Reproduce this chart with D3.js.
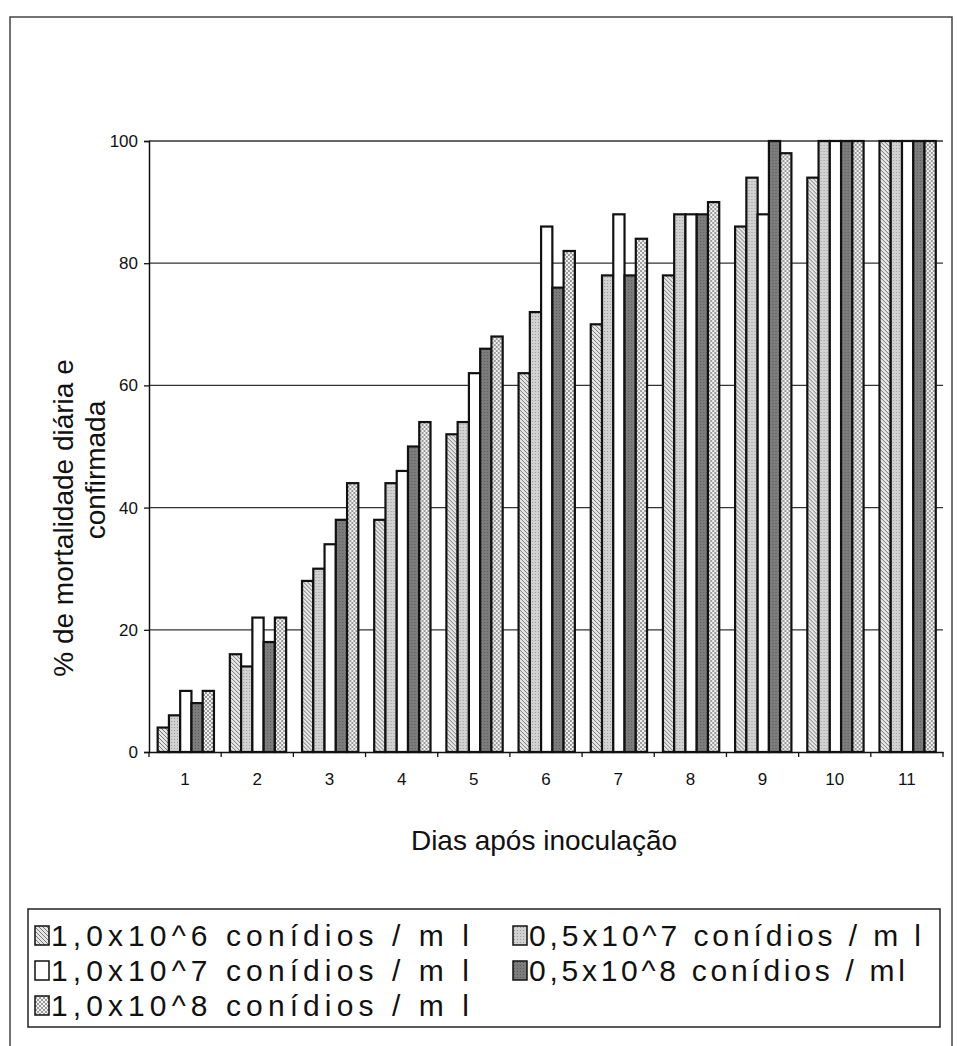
<!DOCTYPE html>
<html>
<head>
<meta charset="utf-8">
<script src="https://cdn.jsdelivr.net/npm/d3@7"></script>
<style>
  body { margin: 0; background: #fff; }
  text { font-family: "Liberation Sans", Arial, sans-serif; fill: #111; }
</style>
</head>
<body>
<div id="my_dataviz"></div>
<script>
// days after inoculation (x categories)
var days = ["1", "2", "3", "4", "5", "6", "7", "8", "9", "10", "11"];

// series names, same order as the bars inside a group
var seriesNames = ["1,0x10^6 conídios / m l", "0,5x10^7 conídios / m l", "1,0x10^7 conídios / m l",
                   "0,5x10^8 conídios / ml", "1,0x10^8 conídios / m l"];

// % mortality per day
var s1e6 = [4, 16, 28, 38, 52, 62, 70, 78, 86, 94, 100];
var s05e7 = [6, 14, 30, 44, 54, 72, 78, 88, 94, 100, 100];
var s1e7 = [10, 22, 34, 46, 62, 86, 88, 88, 88, 100, 100];
var s05e8 = [8, 18, 38, 50, 66, 76, 78, 88, 100, 100, 100];
var s1e8 = [10, 22, 44, 54, 68, 82, 84, 90, 98, 100, 100];

var yTicks = [0, 20, 40, 60, 80, 100];

var allSeries = [s1e6, s05e7, s1e7, s05e8, s1e8];

var width = 957, height = 1046;

var svg = d3.select("#my_dataviz")
  .append("svg")
    .attr("width", width)
    .attr("height", height);

// patterns for the bar fills (scanned b/w print)
var defs = svg.append("defs");

var p1 = defs.append("pattern").attr("id", "pat0").attr("patternUnits", "userSpaceOnUse")
  .attr("width", 4).attr("height", 4);
p1.append("rect").attr("width", 4).attr("height", 4).attr("fill", "#e6e6e6");
p1.append("path").attr("d", "M0,0 L4,4 M-1,3 L1,5 M3,-1 L5,1").attr("stroke", "#777").attr("stroke-width", 1);

var p2 = defs.append("pattern").attr("id", "pat1").attr("patternUnits", "userSpaceOnUse")
  .attr("width", 3).attr("height", 3);
p2.append("rect").attr("width", 3).attr("height", 3).attr("fill", "#d2d2d2");
p2.append("rect").attr("x", 1).attr("y", 1).attr("width", 1).attr("height", 1).attr("fill", "#999");

var p3 = defs.append("pattern").attr("id", "pat2").attr("patternUnits", "userSpaceOnUse")
  .attr("width", 4).attr("height", 4);
p3.append("rect").attr("width", 4).attr("height", 4).attr("fill", "#fff");

var p4 = defs.append("pattern").attr("id", "pat3").attr("patternUnits", "userSpaceOnUse")
  .attr("width", 3).attr("height", 3);
p4.append("rect").attr("width", 3).attr("height", 3).attr("fill", "#7c7c7c");
p4.append("rect").attr("x", 1).attr("y", 1).attr("width", 1).attr("height", 1).attr("fill", "#5a5a5a");

var p5 = defs.append("pattern").attr("id", "pat4").attr("patternUnits", "userSpaceOnUse")
  .attr("width", 4).attr("height", 4);
p5.append("rect").attr("width", 4).attr("height", 4).attr("fill", "#f2f2f2");
p5.append("rect").attr("x", 0).attr("y", 0).attr("width", 2).attr("height", 2).attr("fill", "#9a9a9a");
p5.append("rect").attr("x", 2).attr("y", 2).attr("width", 2).attr("height", 2).attr("fill", "#9a9a9a");

// outer frame
svg.append("rect")
  .attr("x", 10).attr("y", 17)
  .attr("width", 942).attr("height", 1060)
  .attr("fill", "none").attr("stroke", "#444").attr("stroke-width", 1.5);

// plot area
var plotLeft = 149, plotRight = 943, plotTop = 141, plotBottom = 752;

var y = d3.scaleLinear().domain([0, 100]).range([plotBottom, plotTop]);

var x0 = d3.scaleBand().domain(days).range([plotLeft, plotRight]).padding(0);
var bw = x0.bandwidth();
var x1 = d3.scaleBand().domain(d3.range(allSeries.length))
  .range([bw * 0.12, bw * 0.9]).padding(0);

// gridlines
svg.append("g")
  .selectAll("line")
  .data(yTicks.filter(function(t){ return t > 0; }))
  .enter()
  .append("line")
    .attr("x1", plotLeft).attr("x2", plotRight)
    .attr("y1", function(d){ return y(d); })
    .attr("y2", function(d){ return y(d); })
    .attr("stroke", "#333").attr("stroke-width", 1.3);

// bars
var groups = svg.append("g")
  .selectAll("g")
  .data(days)
  .enter()
  .append("g")
    .attr("transform", function(d){ return "translate(" + x0(d) + ",0)"; });

groups.selectAll("rect")
  .data(function(d, i){ return allSeries.map(function(s, j){ return {s: j, v: s[i]}; }); })
  .enter()
  .append("rect")
    .attr("x", function(d){ return x1(d.s); })
    .attr("y", function(d){ return y(d.v); })
    .attr("width", x1.bandwidth())
    .attr("height", function(d){ return plotBottom - y(d.v); })
    .attr("fill", function(d){ return "url(#pat" + d.s + ")"; })
    .attr("stroke", "#111")
    .attr("stroke-width", 2.2);

// y axis
var yAxis = svg.append("g")
  .attr("transform", "translate(" + plotLeft + ",0)")
  .call(d3.axisLeft(y).tickValues(yTicks).tickSize(5).tickPadding(6));
yAxis.select(".domain").attr("stroke", "#111").attr("stroke-width", 1.5);
yAxis.selectAll(".tick line").attr("stroke", "#111").attr("stroke-width", 1.3);
yAxis.selectAll("text").style("font-size", "17px").attr("fill", "#111");

// x axis, ticks between categories
var xAxis = svg.append("g")
  .attr("transform", "translate(0," + plotBottom + ")")
  .call(d3.axisBottom(x0).tickSize(0).tickPadding(21));
xAxis.select(".domain").attr("stroke", "#111").attr("stroke-width", 1.5);
xAxis.selectAll("text").style("font-size", "17px").attr("fill", "#111");

svg.append("g")
  .selectAll("line")
  .data(days.concat(["end"]))
  .enter()
  .append("line")
    .attr("x1", function(d, i){ return plotLeft + i * bw; })
    .attr("x2", function(d, i){ return plotLeft + i * bw; })
    .attr("y1", plotBottom).attr("y2", plotBottom + 5)
    .attr("stroke", "#111").attr("stroke-width", 1.3);

// axis titles
svg.append("text")
  .attr("x", 544).attr("y", 850)
  .attr("text-anchor", "middle")
  .style("font-size", "28px")
  .text("Dias após inoculação");

svg.append("text")
  .attr("transform", "translate(73,518) rotate(-90)")
  .attr("text-anchor", "middle")
  .style("font-size", "28px")
  .text("% de mortalidade diária e");

svg.append("text")
  .attr("transform", "translate(105,470) rotate(-90)")
  .attr("text-anchor", "middle")
  .style("font-size", "28px")
  .text("confirmada");

// legend box
var legX = 28, legY = 909, legW = 912, legH = 118;
svg.append("rect")
  .attr("x", legX).attr("y", legY).attr("width", legW).attr("height", legH)
  .attr("fill", "#fff").attr("stroke", "#222").attr("stroke-width", 1.5);

// legend entries, two columns like the original
var legPos = [[35, 935], [513, 935], [35, 970], [513, 970], [35, 1005]];
var legLen = [418, 392, 418, 376, 418];

var leg = svg.append("g")
  .selectAll("g")
  .data(seriesNames)
  .enter()
  .append("g")
    .attr("transform", function(d, i){ return "translate(" + legPos[i][0] + "," + legPos[i][1] + ")"; });

leg.append("rect")
  .attr("x", 0).attr("y", -9)
  .attr("width", 14).attr("height", 19)
  .attr("fill", function(d, i){ return "url(#pat" + i + ")"; })
  .attr("stroke", "#111").attr("stroke-width", 1.5);

leg.append("text")
  .attr("x", 16).attr("y", 11)
  .style("font-size", "30px")
  .attr("textLength", function(d, i){ return legLen[i]; })
  .attr("lengthAdjust", "spacing")
  .text(function(d){ return d; });
</script>
</body>
</html>
